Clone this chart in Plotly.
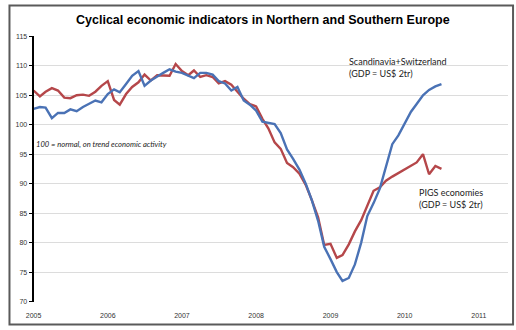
import pandas as pd
import plotly.graph_objects as go

dates = pd.date_range("2005-01-01", periods=67, freq="MS")

scandinavia_switzerland = [
    102.7, 103.0, 102.9, 101.1, 102.0, 102.0, 102.6, 102.3, 103.0, 103.6, 104.1, 103.8,
    105.2, 106.0, 105.5, 106.9, 108.3, 109.1, 106.6, 107.5, 108.2, 108.8, 109.4, 109.0,
    108.8, 108.3, 107.9, 108.8, 108.8, 108.5, 107.4, 107.0, 105.8, 106.4, 104.1, 103.4,
    102.4, 100.5, 100.3, 100.1, 98.6, 95.8, 94.2, 92.4, 90.0, 87.2, 83.7, 79.3,
    77.2, 75.0, 73.5, 74.0, 76.3, 80.0, 84.5, 86.7, 89.2, 93.0, 96.7, 98.2,
    100.3, 102.2, 103.5, 105.0, 105.9, 106.5, 106.9,
]

pigs = [
    105.8, 104.8, 105.6, 106.2, 105.8, 104.6, 104.5, 105.0, 105.1, 104.9, 105.6, 106.6,
    107.4, 104.2, 103.4, 105.2, 106.4, 107.2, 108.5, 107.5, 108.4, 108.3, 108.3, 110.3,
    109.1, 108.4, 109.2, 108.1, 108.4, 108.1, 107.0, 107.4, 106.8, 105.6, 104.4, 103.5,
    103.1, 101.0, 99.4, 97.0, 95.9, 93.5, 92.8, 91.7, 89.8, 87.2, 84.3, 79.6,
    79.8, 77.4, 77.9, 79.7, 81.9, 83.8, 86.3, 88.8, 89.4, 90.5, 91.2, 91.8,
    92.4, 93.1, 93.6, 95.0, 91.6, 93.0, 92.5,
]

year_ticks = ["2005-01-01", "2006-01-01", "2007-01-01", "2008-01-01",
              "2009-01-01", "2010-01-01", "2011-01-01"]
year_labels = ["2005", "2006", "2007", "2008", "2009", "2010", "2011"]
y_ticks = [70, 75, 80, 85, 90, 95, 100, 105, 110, 115]

W, H = 516, 330
px = lambda x: x / W
py = lambda y: (H - y) / H

fig = go.Figure()
fig.add_trace(go.Scatter(x=dates, y=pigs, mode="lines", name="PIGS economies",
                         line=dict(color="#B5474A", width=2.4)))
fig.add_trace(go.Scatter(x=dates, y=scandinavia_switzerland, mode="lines",
                         name="Scandinavia+Switzerland",
                         line=dict(color="#4A72B5", width=2.4)))

tickfont = dict(family="Liberation Sans, Arial, sans-serif", size=7, color="#333333")
annfont = dict(family="Lato, Liberation Sans, sans-serif", size=9, color="#222222")

fig.update_layout(
    width=W, height=H,
    margin=dict(l=0, r=0, t=0, b=0),
    paper_bgcolor="white", plot_bgcolor="white",
    showlegend=False,
    xaxis=dict(
        domain=[px(26), px(508)],
        type="date",
        range=["2005-01-01", "2011-05-25"],
        tickvals=year_ticks, ticktext=year_labels,
        showgrid=False, zeroline=False, showline=False,
        ticks="", tickfont=tickfont, anchor="y",
        ticklabelstandoff=8,
    ),
    xaxis2=dict(
        matches="x", overlaying="x", anchor="free",
        position=(100 - 70) / (115 - 70) * (py(33) - py(304)) + py(304),
        domain=[px(26), px(508)],
        type="date",
        tickvals=year_ticks,
        showticklabels=False, showgrid=False, zeroline=False,
        showline=True, linecolor="black", linewidth=2,
        ticks="outside", ticklen=3, tickcolor="black", tickwidth=1,
    ),
    yaxis=dict(
        domain=[py(304), py(33)],
        range=[70, 115],
        tickvals=y_ticks,
        showgrid=True, gridcolor="#DCDCDC", gridwidth=1,
        zeroline=False,
        showline=True, linecolor="black", linewidth=2,
        ticks="outside", ticklen=3, tickcolor="black",
        tickfont=tickfont,
    ),
    shapes=[
        dict(type="rect", xref="paper", yref="paper",
             x0=px(1.5), x1=px(513), y0=py(327.5), y1=py(1.5),
             line=dict(color="#5A5A5A", width=2), fillcolor="rgba(0,0,0,0)"),
    ],
    annotations=[
        dict(text="<b>Cyclical economic indicators in Northern and Southern Europe</b>",
             xref="paper", yref="paper", x=px(259), y=py(16),
             showarrow=False, xanchor="center", yanchor="middle",
             font=dict(family="Liberation Sans, Arial, sans-serif", size=12.5, color="black")),
        dict(text="Scandinavia+Switzerland<br>(GDP = US$ 2tr)",
             xref="paper", yref="paper", x=px(344), y=py(51),
             showarrow=False, xanchor="left", yanchor="top", align="left",
             font=annfont),
        dict(text="PIGS economies<br>(GDP = US$ 2tr)",
             xref="paper", yref="paper", x=px(415), y=py(185),
             showarrow=False, xanchor="left", yanchor="top", align="left",
             font=annfont),
        dict(text="<i>100 = normal, on trend economic activity</i>",
             xref="paper", yref="paper", x=px(26), y=py(143),
             showarrow=False, xanchor="left", yanchor="middle",
             font=dict(family="Lato, Liberation Sans, sans-serif", size=7.6, color="#222222")),
    ],
)

fig.write_html("out.html")
